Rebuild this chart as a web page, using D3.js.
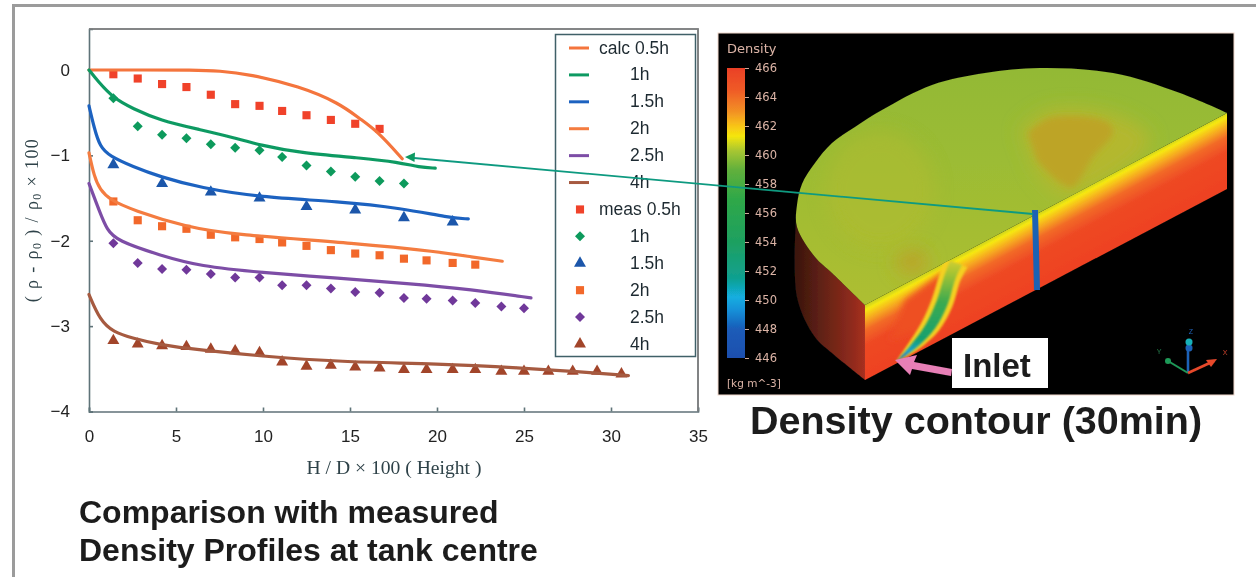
<!DOCTYPE html>
<html>
<head>
<meta charset="utf-8">
<script src="https://cdn.jsdelivr.net/npm/d3@7"></script>
<style>
  html, body { margin: 0; padding: 0; background: #fff; }
  svg { display: block; }
  text { font-family: "Liberation Sans", Arial, sans-serif; }
</style>
</head>
<body>
<div id="chart"></div>
<script>
// Left chart data: values
const xTicks = [0, 5, 10, 15, 20, 25, 30, 35];
const yTicks = [0, -1, -2, -3, -4];
const measX = [1.4, 2.8, 4.2, 5.6, 7, 8.4, 9.8, 11.1, 12.5, 13.9, 15.3, 16.7, 18.1, 19.4, 20.9, 22.2, 23.7, 25, 26.4, 27.8, 29.2, 30.6];

const calc05h = [[0,0],[3,0],[6,0],[7.5,-0.01],[9.2,-0.05],[12.1,-0.19],[14.4,-0.39],[15.55,-0.57],[16.6,-0.72],[18,-1.04]];
const calc1h = [[0,0],[0.5,-0.13],[1.4,-0.33],[2.5,-0.45],[4.07,-0.59],[6.4,-0.7],[8.3,-0.79],[9.8,-0.88],[12.1,-0.97],[15.55,-1.03],[17.8,-1.08],[19,-1.14],[19.9,-1.15]];
const calc15h = [[0,-0.42],[0.3,-0.68],[0.63,-0.9],[1.2,-1.01],[2.5,-1.13],[4.07,-1.25],[6.4,-1.38],[9.8,-1.49],[14.4,-1.54],[18,-1.62],[20.7,-1.73],[21.8,-1.745]];
const calc2h = [[0,-0.97],[0.3,-1.25],[0.63,-1.4],[1.2,-1.52],[2.5,-1.64],[5.6,-1.84],[8.3,-1.93],[15.5,-2.03],[20.1,-2.13],[22,-2.19],[23.75,-2.24]];
const calc25h = [[0,-1.33],[0.63,-1.67],[1.03,-1.87],[1.6,-2],[4.07,-2.17],[6.4,-2.3],[9.8,-2.37],[14.4,-2.44],[18.3,-2.5],[22,-2.57],[25.4,-2.67]];
const calc4h = [[0,-2.63],[0.63,-2.93],[1.4,-3.07],[2.5,-3.14],[4.07,-3.22],[6.4,-3.28],[9.8,-3.35],[14.4,-3.42],[20.1,-3.44],[24.9,-3.49],[27.9,-3.53],[31,-3.58]];

const meas05h = [-0.05,-0.1,-0.165,-0.2,-0.29,-0.4,-0.42,-0.48,-0.53,-0.585,-0.63,-0.69];
const meas1h = [-0.33,-0.66,-0.76,-0.8,-0.87,-0.91,-0.94,-1.02,-1.12,-1.19,-1.25,-1.3,-1.33];
const meas15h = [[1.4,-1.11],[4.2,-1.33],[7,-1.43],[9.8,-1.5],[12.5,-1.6],[15.3,-1.64],[18.1,-1.73],[20.9,-1.78]];
const meas2h = [-1.54,-1.76,-1.83,-1.86,-1.93,-1.96,-1.98,-2.02,-2.06,-2.11,-2.15,-2.17,-2.21,-2.23,-2.26,-2.28];
const meas25h = [-2.03,-2.26,-2.33,-2.34,-2.39,-2.43,-2.43,-2.52,-2.52,-2.56,-2.6,-2.61,-2.67,-2.68,-2.7,-2.73,-2.77,-2.79];
const meas4h = [-3.17,-3.21,-3.23,-3.24,-3.27,-3.29,-3.31,-3.42,-3.47,-3.46,-3.48,-3.49,-3.51,-3.51,-3.51,-3.51,-3.53,-3.53,-3.53,-3.53,-3.53,-3.56];

const calcLabels = ["calc 0.5h", "1h", "1.5h", "2h", "2.5h", "4h"];
const measLabels = ["meas 0.5h", "1h", "1.5h", "2h", "2.5h", "4h"];
const calcColors = ["#f4743c", "#0f9a62", "#1e62c0", "#f47c40", "#7d4ea6", "#a65a40"];
const measColors = ["#f0422a", "#0b9a5c", "#1a56aa", "#f2682a", "#70399a", "#a2452c"];
const measShapes = ["square", "diamond", "triangle", "square", "diamond", "triangle"];

// Colour bar stops
const densityTicks = [466, 464, 462, 460, 458, 456, 454, 452, 450, 448, 446];
const densityStops = [446, 448, 449.3, 450.2, 451.5, 454, 457, 459, 460.3, 461.3, 462, 463, 464.5, 466];
const densityColors = ["#1c4fae", "#1a5cb8", "#1590d8", "#12aee0", "#10a090", "#1ea060", "#2fa848", "#62b03c", "#a8c632", "#f5e60c", "#f8c418", "#f29024", "#ef5a28", "#ea4026"];

// Outline of the tank picture (illustration, not data)
const rimPts = [[1227,113],[1180,93],[1113,73],[1040,68],[985,73],[932,85],[882,110],[855,127],[832,143],[815,163],[802,184],[797,205],[797,227],[815,257],[832,273],[865,305]];
const sideTop = [[797,205],[797,227],[815,257],[832,273],[865,305]];
const sideBottom = [[865,380],[832,353],[815,337],[797,297],[797,205]];
const wallPts = [[865,305],[1227,113],[1227,189],[865,380]];
const plumeMid = [[897,361,0.5],[913,347,5],[930,327,8],[942,303,9],[950,277,9],[956,263,10]];
const blobCore = [[1028,133],[1050,118],[1107,122],[1113,132],[1093,157],[1072,187],[1057,180],[1037,160]];
const blobHalo = [[1020,130],[1050,110],[1115,115],[1150,140],[1090,190],[1060,195],[1035,170]];
const flame = [[905,300],[945,270],[938,300],[920,330],[890,340]];

const W = 1256, H = 577;
const svg = d3.select("#chart").append("svg").attr("width", W).attr("height", H);
const defs = svg.append("defs");

function addGradient(id, x1, y1, x2, y2, stops) {
  const g = defs.append("linearGradient").attr("id", id)
    .attr("gradientUnits", "userSpaceOnUse")
    .attr("x1", x1).attr("y1", y1).attr("x2", x2).attr("y2", y2);
  stops.forEach(s => g.append("stop").attr("offset", s[0]).attr("stop-color", s[1]));
}
function addBlur(id, amount) {
  defs.append("filter").attr("id", id).attr("filterUnits", "userSpaceOnUse")
    .attr("x", 0).attr("y", 0).attr("width", W).attr("height", H)
    .append("feGaussianBlur").attr("stdDeviation", amount);
}
addBlur("soft", 0.5);
addBlur("plumeBlur", 1.2);
addBlur("blob", 3);
addBlur("blobWide", 9);

const root = svg.append("g").attr("filter", "url(#soft)");

// outer grey frame, open to right and bottom
root.append("path").attr("d", `M13.5,${H} V5.5 H${W}`).attr("fill", "none").attr("stroke", "#9b9b9b").attr("stroke-width", 3);

// ---- chart ----
const x = d3.scaleLinear().domain([0, 35]).range([89, 698]);
const y = d3.scaleLinear().domain([-4, 0.48]).range([411.5, 29]);
const chart = root.append("g");
const axisColor = "#5f7378";

chart.append("path").attr("d", `M${x(0)},${y(0.48)} H${x(35)} V${y(-4)}`)
  .attr("fill", "none").attr("stroke", "#7d7f80").attr("stroke-width", 1.6);

const gx = chart.append("g").attr("transform", `translate(0,${y(-4)})`)
  .call(d3.axisBottom(x).tickValues(xTicks).tickSize(-4).tickPadding(18).tickFormat(d3.format("d")));
const gy = chart.append("g").attr("transform", `translate(${x(0)},0)`)
  .call(d3.axisLeft(y).tickValues(yTicks).tickSize(-4).tickPadding(19).tickFormat(d3.format("d")));
[gx, gy].forEach(g => {
  g.selectAll("path,line").attr("stroke", axisColor).attr("stroke-width", 1.6);
  g.selectAll("text").style("font-family", '"Liberation Sans"').style("font-size", "17px").style("fill", "#222");
});

const line = d3.line().x(d => x(d[0])).y(d => y(d[1])).curve(d3.curveBasis);
const calcSeries = [calc05h, calc1h, calc15h, calc2h, calc25h, calc4h];

function markerPath(shape) {
  if (shape === "triangle") return d3.symbol(d3.symbolTriangle, 62)();
  return d3.symbol(d3.symbolSquare, shape === "square" ? 66 : 50)();
}
function drawMarker(g, shape, color, px, py) {
  g.append("path").attr("d", markerPath(shape)).attr("fill", color)
    .attr("transform", `translate(${px},${py})` + (shape === "diamond" ? " rotate(45)" : ""));
}

const marks = chart.append("g");
const measSeries = [
  meas05h.map((v, i) => [measX[i], v]),
  meas1h.map((v, i) => [measX[i], v]),
  meas15h,
  meas2h.map((v, i) => [measX[i], v]),
  meas25h.map((v, i) => [measX[i], v]),
  meas4h.map((v, i) => [measX[i], v])
];
measSeries.forEach((pts, i) => {
  pts.forEach(d => drawMarker(marks, measShapes[i], measColors[i], x(d[0]), y(d[1])));
});
calcSeries.forEach((pts, i) => {
  marks.append("path").datum(pts).attr("d", line).attr("fill", "none")
    .attr("stroke", calcColors[i]).attr("stroke-width", 3.2).attr("stroke-linecap", "round");
});

// axis titles
chart.append("text").attr("x", 394).attr("y", 474).attr("text-anchor", "middle")
  .style("font-family", '"Liberation Serif"').style("font-size", "19.6px").style("fill", "#2f4248")
  .text("H / D × 100 ( Height )");
const yTitle = chart.append("text").attr("transform", "translate(38,220) rotate(-90)").attr("text-anchor", "middle")
  .style("font-family", '"Liberation Serif"').style("font-size", "18px").style("letter-spacing", "1.4px").style("fill", "#2f4248");
yTitle.append("tspan").text("( ρ - ρ");
yTitle.append("tspan").attr("dy", 3).style("font-size", "12px").text("0");
yTitle.append("tspan").attr("dy", -3).text(" ) / ρ");
yTitle.append("tspan").attr("dy", 3).style("font-size", "12px").text("0");
yTitle.append("tspan").attr("dy", -3).text(" × 100");

// ---- legend ----
const legend = chart.append("g");
legend.append("rect").attr("x", 555.5).attr("y", 34.5).attr("width", 140).attr("height", 322)
  .attr("fill", "#fff").attr("stroke", "#3f6068").attr("stroke-width", 1.5);
chart.append("path").attr("d", `M${x(0)},${y(0.48)} H${x(35)} V${y(-4)}`)
  .attr("fill", "none").attr("stroke", "#7d7f80").attr("stroke-width", 1.6);
const legendY = d3.scalePoint().domain(d3.range(12)).range([48, 344]);
const legendText = (s, i) => legend.append("text")
  .attr("x", s.length > 4 ? 599 : 630)
  .attr("y", legendY(i) + 5.5)
  .style("font-size", "17.5px").style("fill", "#1f2a30").text(s);
calcLabels.forEach((s, i) => {
  legend.append("line").attr("x1", 569).attr("x2", 589).attr("y1", legendY(i)).attr("y2", legendY(i))
    .attr("stroke", calcColors[i]).attr("stroke-width", 3);
  legendText(s, i);
});
measLabels.forEach((s, i) => {
  drawMarker(legend, measShapes[i], measColors[i], 580, legendY(i + 6));
  legendText(s, i + 6);
});

// ---- density picture ----
const pic = root.append("g");
pic.append("rect").attr("x", 718).attr("y", 33).attr("width", 516).attr("height", 362)
  .attr("fill", "#050505").attr("stroke", "#f0d8cc").attr("stroke-width", 1);

// colour bar
const barY = d3.scaleLinear().domain([446, 466]).range([358, 68]);
addGradient("bar", 0, barY(446), 0, barY(466), densityStops.map((d, i) => [(d - 446) / 20, densityColors[i]]));
pic.append("rect").attr("x", 727).attr("y", barY(466)).attr("width", 18).attr("height", barY(446) - barY(466)).attr("fill", "url(#bar)");
const barAxis = pic.append("g").attr("transform", "translate(745,0)")
  .call(d3.axisRight(barY).tickValues(densityTicks).tickSize(4).tickPadding(6).tickFormat(d3.format("d")));
barAxis.select(".domain").remove();
barAxis.selectAll("line").attr("stroke", "#cfa99a");
barAxis.selectAll("text").style("font-family", '"DejaVu Sans"').style("font-size", "11.5px").style("fill", "#dcb4a6");
pic.append("text").attr("x", 727).attr("y", 53).style("font-family", '"DejaVu Sans"').style("font-size", "13px").style("fill", "#dcb4a6").text("Density");
pic.append("text").attr("x", 727).attr("y", 387).style("font-family", '"DejaVu Sans"').style("font-size", "10.5px").style("fill", "#dcb4a6").text("[kg  m^-3]");

// tank
const smooth = d3.line().curve(d3.curveCatmullRom);
const straight = d3.line();
const rimPath = smooth(rimPts) + "Z";

addGradient("sideGrad", 797, 0, 865, 0, [[0, "#3c160e"], [0.45, "#6a2416"], [0.8, "#8e2a1c"], [1, "#a83020"]]);
addGradient("wallGrad", 865, 305, 896, 363, [[0, "#c6d020"], [0.07, "#f6e810"], [0.17, "#f7b81e"], [0.34, "#f26a28"], [0.55, "#ee4824"], [1, "#ee4222"]]);
addGradient("topGrad", 0, 70, 0, 300, [[0, "#93b935"], [0.4, "#9cbc34"], [1, "#adbe30"]]);
addGradient("plumeGrad", 0, 361, 0, 263, [[0, "#1c50b0"], [0.1, "#12a0d0"], [0.22, "#16a070"], [0.6, "#3caa50"], [0.9, "#a8c432"], [1, "#c8cc30"]]);

pic.append("path").attr("d", smooth(sideTop) + "L" + smooth(sideBottom).slice(1) + "Z").attr("fill", "url(#sideGrad)");
pic.append("path").attr("d", straight(wallPts) + "Z").attr("fill", "url(#wallGrad)");

defs.append("clipPath").attr("id", "wallClip").append("path").attr("d", straight(wallPts) + "Z");
defs.append("clipPath").attr("id", "topClip").append("path").attr("d", rimPath);

// plume from the inlet
function ribbon(pts, k) {
  const a = pts.map(p => [p[0] - p[2] * k, p[1] - p[2] * k * 0.35]);
  const b = pts.map(p => [p[0] + p[2] * k, p[1] + p[2] * k * 0.35]).reverse();
  return smooth(a) + "L" + smooth(b).slice(1) + "Z";
}
const plume = pic.append("g").attr("clip-path", "url(#wallClip)");
plume.append("path").attr("d", straight(flame) + "Z").attr("fill", "#ee5024").attr("filter", "url(#blob)");
plume.append("path").attr("d", ribbon(plumeMid, 1.15)).attr("fill", "#f4d020").attr("filter", "url(#plumeBlur)");
plume.append("path").attr("d", ribbon(plumeMid, 0.6)).attr("fill", "url(#plumeGrad)").attr("filter", "url(#plumeBlur)");

pic.append("path").attr("d", rimPath).attr("fill", "url(#topGrad)");
const blobs = pic.append("g").attr("clip-path", "url(#topClip)");
blobs.append("path").attr("d", smooth(blobHalo) + "Z").attr("fill", "#b4b82e").attr("filter", "url(#blobWide)");
blobs.append("path").attr("d", smooth(blobCore) + "Z").attr("fill", "#bda428").attr("filter", "url(#blob)");
blobs.append("ellipse").attr("cx", 912).attr("cy", 262).attr("rx", 16).attr("ry", 12).attr("fill", "#bca42c").attr("filter", "url(#blobWide)");
blobs.append("ellipse").attr("cx", 880).attr("cy", 190).attr("rx", 55).attr("ry", 60).attr("fill", "#b2bb2e").attr("opacity", 0.5).attr("filter", "url(#blobWide)");

// measuring line on the wall
pic.append("line").attr("x1", 1035).attr("y1", 210).attr("x2", 1037).attr("y2", 290)
  .attr("stroke", "#1c62b4").attr("stroke-width", 6);

// axis triad
const triad = pic.append("g");
triad.append("line").attr("x1", 1188).attr("y1", 373).attr("x2", 1188).attr("y2", 345).attr("stroke", "#1f62b8").attr("stroke-width", 2.5);
triad.append("line").attr("x1", 1188).attr("y1", 373).attr("x2", 1168).attr("y2", 361).attr("stroke", "#1f9a58").attr("stroke-width", 2);
triad.append("line").attr("x1", 1188).attr("y1", 373).attr("x2", 1214).attr("y2", 361).attr("stroke", "#e8492c").attr("stroke-width", 2.5);
triad.append("path").attr("d", "M1217,359 L1206,360 L1211,367 Z").attr("fill", "#e8492c");
triad.append("circle").attr("cx", 1189).attr("cy", 348).attr("r", 3.5).attr("fill", "#1f62b8");
triad.append("circle").attr("cx", 1189).attr("cy", 342).attr("r", 3.5).attr("fill", "#16b0b8");
triad.append("circle").attr("cx", 1168).attr("cy", 361).attr("r", 3).attr("fill", "#1f9a58");
[["Z", 1191, 334, "#1f62b8"], ["Y", 1159, 354, "#1f7a48"], ["X", 1225, 355, "#c8402a"]].forEach(t => {
  pic.append("text").attr("x", t[1]).attr("y", t[2]).attr("text-anchor", "middle").style("font-size", "7px").style("fill", t[3]).text(t[0]);
});

// inlet label and pink arrow
pic.append("rect").attr("x", 952).attr("y", 338).attr("width", 96).attr("height", 50).attr("fill", "#fff");
pic.append("path").attr("d", "M952,369 L914,362 L917,355 L895,360 L910,375 L912,369 L951,376 Z").attr("fill", "#e77fb6");
pic.append("text").attr("x", 963).attr("y", 377).style("font-size", "33px").style("font-weight", "700").style("fill", "#1a1a1a").text("Inlet");

// green arrow from the curve to the measuring line
const arrow = root.append("g");
arrow.append("line").attr("x1", 414).attr("y1", 158).attr("x2", 1033).attr("y2", 214).attr("stroke", "#0f9a80").attr("stroke-width", 1.8);
arrow.append("path").attr("d", "M405,157 L415,152.5 L414.5,162 Z").attr("fill", "#0f9a62");

// captions
root.append("text").attr("x", 750).attr("y", 434).style("font-size", "39.5px").style("font-weight", "700").style("fill", "#1c1c1c").text("Density contour (30min)");
root.append("text").attr("x", 79).attr("y", 523).style("font-size", "32px").style("font-weight", "700").style("fill", "#1c1c1c").text("Comparison with measured");
root.append("text").attr("x", 79).attr("y", 561).style("font-size", "32px").style("font-weight", "700").style("fill", "#1c1c1c").text("Density Profiles at tank centre");
</script>
</body>
</html>
